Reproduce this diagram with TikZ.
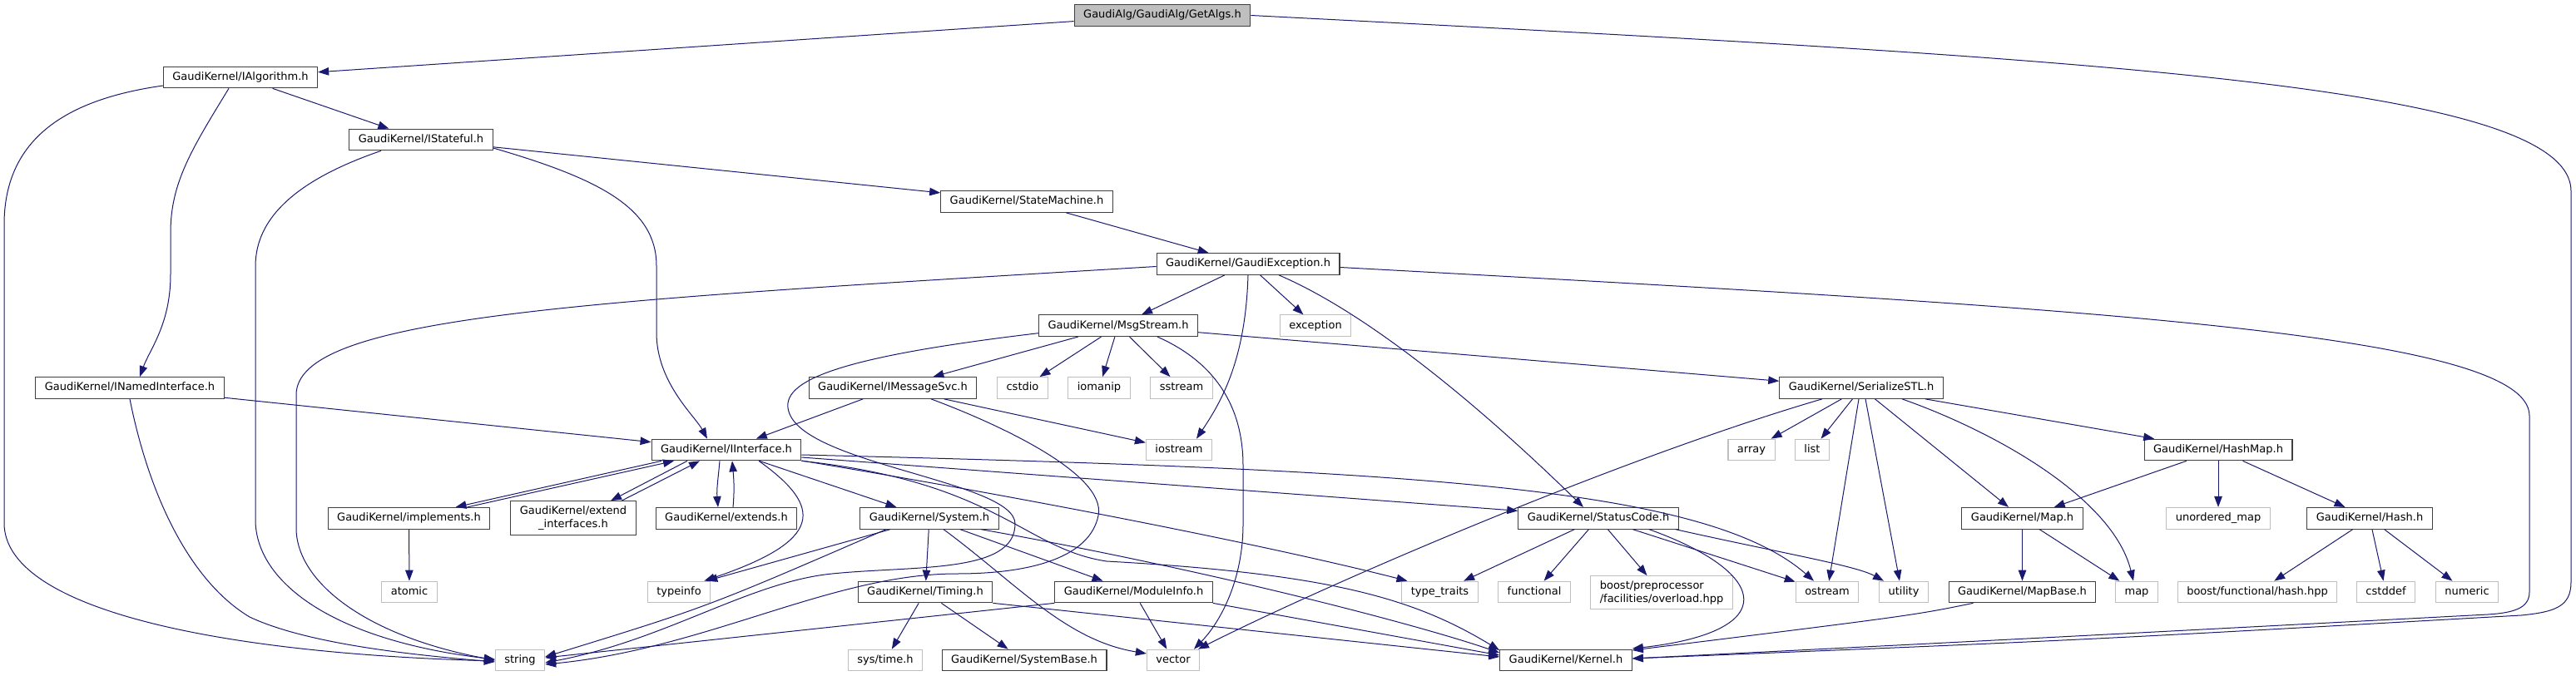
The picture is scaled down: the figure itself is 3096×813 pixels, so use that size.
\documentclass[tikz,border=0pt]{standalone}
\usepackage{fontspec}
\setmainfont{DejaVu Sans}
\usetikzlibrary{positioning}
\usetikzlibrary{arrows.meta}
\usetikzlibrary{calc}

\definecolor{depblue}{HTML}{191970}
\definecolor{rootgray}{HTML}{BFBFBF}
\definecolor{sysgray}{HTML}{BFBFBF}
\definecolor{hdrline}{HTML}{404040}

\tikzset{
  hdrbase/.style={draw=hdrline, line width=1.1pt, fill=white, inner xsep=11pt, inner ysep=6pt,
    font=\fontsize{13}{15.5}\selectfont},
  hdr/.style={hdrbase, text height=9.9pt, text depth=3.1pt, minimum height=25.6pt},
  syshdr/.style={hdr, draw=sysgray},
  roothdr/.style={hdr, fill=rootgray},
  hdrtwo/.style={hdrbase, align=center},
  systwo/.style={hdrbase, draw=sysgray, align=left},
  dep/.style={draw=depblue, line width=1pt, -{Triangle[length=13pt,width=9.5pt]}},
}

\begin{document}
\begin{tikzpicture}[x=1pt, y=1pt]
  \useasboundingbox (0,0) rectangle (3096,-813);

  % headers, one row after the other
  \node[roothdr] (getalgs) at (1397,-18.5) {GaudiAlg/GaudiAlg/GetAlgs.h};
  \node[hdr] (ialgorithm) at (289,-93) {GaudiKernel/IAlgorithm.h};
  \node[hdr] (istateful) at (506,-168) {GaudiKernel/IStateful.h};
  \node[hdr] (statemachine) at (1234,-242.5) {GaudiKernel/StateMachine.h};
  \node[hdr] (gaudiexception) at (1500,-317.5) {GaudiKernel/GaudiException.h};
  \node[hdr] (msgstream) at (1344,-391.7) {GaudiKernel/MsgStream.h};
  \node[syshdr] (exception) at (1581,-391.7) {exception};
  \node[hdr] (inamedinterface) at (156,-466.5) {GaudiKernel/INamedInterface.h};
  \node[hdr] (imessagesvc) at (1073,-466.5) {GaudiKernel/IMessageSvc.h};
  \node[syshdr] (cstdio) at (1229,-466.5) {cstdio};
  \node[syshdr] (iomanip) at (1321,-466.5) {iomanip};
  \node[syshdr] (sstream) at (1420,-466.5) {sstream};
  \node[hdr] (serializestl) at (2237,-466.5) {GaudiKernel/SerializeSTL.h};
  \node[hdr] (iinterface) at (873,-541) {GaudiKernel/IInterface.h};
  \node[syshdr] (iostream) at (1417,-541) {iostream};
  \node[syshdr] (array) at (2105,-541) {array};
  \node[syshdr] (list) at (2178,-541) {list};
  \node[hdr] (hashmap) at (2666,-541) {GaudiKernel/HashMap.h};
  \node[hdr] (implements) at (491.5,-623.3) {GaudiKernel/implements.h};
  \node[hdrtwo] (extendinterfaces) at (689,-623) {GaudiKernel/extend\\\_interfaces.h};
  \node[hdr] (extends) at (873,-623.3) {GaudiKernel/extends.h};
  \node[hdr] (system) at (1117,-623.3) {GaudiKernel/System.h};
  \node[hdr] (statuscode) at (1921,-623.3) {GaudiKernel/StatusCode.h};
  \node[hdr] (maph) at (2430.5,-623.3) {GaudiKernel/Map.h};
  \node[syshdr] (unorderedmap) at (2666,-623.3) {unordered\_map};
  \node[hdr] (hash) at (2848,-623.3) {GaudiKernel/Hash.h};
  \node[syshdr] (atomic) at (492,-712) {atomic};
  \node[syshdr] (typeinfo) at (816,-712) {typeinfo};
  \node[hdr] (timing) at (1112,-712) {GaudiKernel/Timing.h};
  \node[hdr] (moduleinfo) at (1362.5,-712) {GaudiKernel/ModuleInfo.h};
  \node[syshdr] (typetraits) at (1730.5,-712) {type\_traits};
  \node[syshdr] (functional) at (1844,-712) {functional};
  \node[systwo] (boostpp) at (1997,-712.7) {boost/preprocessor\\/facilities/overload.hpp};
  \node[syshdr] (ostream) at (2196,-712) {ostream};
  \node[syshdr] (utility) at (2288,-712) {utility};
  \node[hdr] (mapbase) at (2430.5,-712) {GaudiKernel/MapBase.h};
  \node[syshdr] (stdmap) at (2568,-712) {map};
  \node[syshdr] (boosthash) at (2713,-712) {boost/functional/hash.hpp};
  \node[syshdr] (cstddef) at (2867.5,-712) {cstddef};
  \node[syshdr] (numeric) at (2965,-712) {numeric};
  \node[syshdr] (string) at (625,-794) {string};
  \node[syshdr] (systime) at (1064,-794) {sys/time.h};
  \node[hdr] (systembase) at (1231,-794) {GaudiKernel/SystemBase.h};
  \node[syshdr] (vector) at (1410,-794) {vector};
  \node[hdr] (kernel) at (1882,-794) {GaudiKernel/Kernel.h};

  % GetAlgs.h
  \draw[dep] (getalgs) -- (ialgorithm);
  \draw[dep] (getalgs.east) .. controls (2500,-70) and (3090,-100) .. (3090,-230) -- (3090,-700)
    .. controls (3090,-730) and (3070,-736) .. (3030,-740) .. controls (2500,-770) .. ([yshift=2]kernel.east);

  % IAlgorithm.h and IStateful.h
  \draw[dep] (ialgorithm) -- (istateful);
  \draw[dep] ([xshift=-14]ialgorithm.south) .. controls (230,-180) and (205,-220) .. (205,-280) -- (205,-330)
    .. controls (205,-390) and (180,-420) .. ([xshift=12]inamedinterface.north);
  \draw[dep] ([yshift=-10]ialgorithm.west) .. controls (90,-118) and (5,-160) .. (5,-270) -- (5,-629)
    .. controls (5,-730) and (250,-785) .. ([yshift=-1]string.west);
  \draw[dep] (istateful) -- (statemachine);
  \draw[dep] ([yshift=-10]istateful.east) .. controls (720,-215) and (789,-250) .. (789,-320) -- (789,-400)
    .. controls (789,-460) and (835,-500) .. ([xshift=-23]iinterface.north);
  \draw[dep] ([xshift=-48]istateful.south) .. controls (360,-215) and (307,-260) .. (307,-320) -- (307,-625)
    .. controls (307,-700) and (400,-770) .. ([yshift=1]string.west);
  \draw[dep] (statemachine) -- (gaudiexception);

  % GaudiException.h
  \draw[dep] (gaudiexception) -- (msgstream);
  \draw[dep] (gaudiexception) -- (exception);
  \draw[dep] (gaudiexception.south) .. controls (1497,-430) and (1470,-480) .. ([xshift=21]iostream.north);
  \draw[dep] ([xshift=37]gaudiexception.south) .. controls (1640,-375) and (1770,-480) .. ([xshift=-18]statuscode.north);
  \draw[dep] ([yshift=-3]gaudiexception.west) .. controls (700,-362) and (356,-380) .. (356,-475) -- (356,-635)
    .. controls (356,-700) and (440,-765) .. (string.west);
  \draw[dep] ([yshift=-4]gaudiexception.east) .. controls (2500,-370) and (3040,-400) .. (3040,-500) -- (3040,-712)
    .. controls (3040,-732) and (3020,-737) .. (2990,-739) .. controls (2400,-770) .. ([yshift=2]kernel.east);

  % MsgStream.h and IMessageSvc.h
  \draw[dep] (msgstream) -- (imessagesvc);
  \draw[dep] (msgstream) -- (cstdio);
  \draw[dep] (msgstream) -- (iomanip);
  \draw[dep] (msgstream) -- (sstream);
  \draw[dep] (msgstream) -- (serializestl);
  \draw[dep] ([xshift=47]msgstream.south) .. controls (1470,-440) and (1494,-500) .. (1494,-560) -- (1494,-630)
    .. controls (1494,-700) and (1465,-750) .. ([xshift=25]vector.north);
  \draw[dep] ([yshift=-9]msgstream.west) .. controls (1000,-430) and (930,-460) .. (950,-500)
    .. controls (980,-560) and (1220,-580) .. (1220,-630) .. controls (1220,-690) and (1100,-680) .. (1000,-690)
    .. controls (900,-700) and (800,-770) .. ([yshift=-3]string.east);
  \draw[dep] (imessagesvc) -- (iinterface);
  \draw[dep] (imessagesvc) -- (iostream);
  \draw[dep] ([xshift=46]imessagesvc.south) .. controls (1200,-510) and (1330,-570) .. (1320,-620)
    .. controls (1310,-670) and (1240,-690) .. (1150,-690) .. controls (1000,-690) and (850,-780) .. ([yshift=-5]string.east);

  % INamedInterface.h
  \draw[dep] (inamedinterface) -- (iinterface);
  \draw[dep] (inamedinterface.south) .. controls (180,-600) and (230,-700) .. (300,-742)
    .. controls (370,-775) and (500,-788) .. ([yshift=-2]string.west);

  % IInterface.h
  \draw[dep] ([xshift=-78]iinterface.south) -- ([xshift=56]implements.north);
  \draw[dep] ([xshift=70]implements.north) -- ([xshift=-63]iinterface.south);
  \draw[dep] ([xshift=-47]iinterface.south) -- ([xshift=45]extendinterfaces.north);
  \draw[dep] ([xshift=58]extendinterfaces.north) -- ([xshift=-32]iinterface.south);
  \draw[dep] ([xshift=-8]iinterface.south) to[out=-95,in=95] ([xshift=-10]extends.north);
  \draw[dep] ([xshift=8]extends.north) to[out=85,in=-85] ([xshift=7]iinterface.south);
  \draw[dep] (iinterface) -- (system);
  \draw[dep] ([xshift=39]iinterface.south) .. controls (990,-610) and (990,-650) .. ([xshift=-8]typeinfo.north east);
  \draw[dep] ([yshift=-9]iinterface.east) -- ([yshift=9]statuscode.west);
  \draw[dep] ([yshift=-6]iinterface.east) .. controls (1700,-565) and (2050,-585) .. ([xshift=-16]ostream.north);
  \draw[dep] ([yshift=-13]iinterface.east) .. controls (1300,-610) and (1560,-665) .. ([xshift=-39]typetraits.north);
  \draw[dep] (iinterface.south east) .. controls (1200,-580) and (1230,-660) .. (1330,-675)
    .. controls (1600,-690) and (1700,-720) .. ([yshift=12]kernel.west);
  \draw[dep] (implements) -- (atomic);

  % System.h, Timing.h, ModuleInfo.h
  \draw[dep] (system) -- (timing);
  \draw[dep] (system) -- (moduleinfo);
  \draw[dep] ([xshift=-47]system.south) -- ([xshift=-5]typeinfo.north east);
  \draw[dep] ([xshift=-52]system.south) .. controls (850,-730) .. ([yshift=4]string.east);
  \draw[dep] ([xshift=17]system.south) .. controls (1220,-700) and (1280,-770) .. ([yshift=8]vector.west);
  \draw[dep] ([xshift=62]system.south) .. controls (1450,-685) and (1700,-750) .. ([yshift=9]kernel.west);
  \draw[dep] (timing) -- (systime);
  \draw[dep] (timing) -- (systembase);
  \draw[dep] (timing.south east) -- ([yshift=4]kernel.west);
  \draw[dep] (moduleinfo) -- (vector);
  \draw[dep] (moduleinfo.south west) -- ([yshift=3]string.east);
  \draw[dep] (moduleinfo.south east) -- ([yshift=6]kernel.west);

  % StatusCode.h
  \draw[dep] (statuscode) -- (typetraits);
  \draw[dep] (statuscode) -- (functional);
  \draw[dep] (statuscode) -- (boostpp);
  \draw[dep] (statuscode) -- (ostream);
  \draw[dep] ([xshift=-4]statuscode.south east) .. controls (2140,-665) and (2230,-680) .. ([xshift=-24]utility.north);
  \draw[dep] ([xshift=61]statuscode.south) .. controls (2130,-690) and (2140,-760) .. ([yshift=14]kernel.east);

  % SerializeSTL.h
  \draw[dep] (serializestl) -- (array);
  \draw[dep] (serializestl) -- (list);
  \draw[dep] ([xshift=-3]serializestl.south) -- (ostream);
  \draw[dep] ([xshift=5]serializestl.south) -- ([xshift=-5]utility.north);
  \draw[dep] (serializestl) -- (maph);
  \draw[dep] ([xshift=49]serializestl.south) .. controls (2400,-520) and (2540,-600) .. ([xshift=-4]stdmap.north);
  \draw[dep] (serializestl) -- (hashmap);
  \draw[dep] ([xshift=-47]serializestl.south) .. controls (1950,-550) and (1600,-700) .. ([xshift=30]vector.north);

  % HashMap.h, Map.h, Hash.h
  \draw[dep] (hashmap) -- (maph);
  \draw[dep] (hashmap) -- (unorderedmap);
  \draw[dep] (hashmap) -- (hash);
  \draw[dep] (maph) -- (mapbase);
  \draw[dep] (maph) -- (stdmap);
  \draw[dep] ([xshift=-59]mapbase.south) .. controls (2300,-740) .. ([yshift=12]kernel.east);
  \draw[dep] (hash) -- (boosthash);
  \draw[dep] (hash) -- (cstddef);
  \draw[dep] (hash) -- (numeric);
\end{tikzpicture}
\end{document}
